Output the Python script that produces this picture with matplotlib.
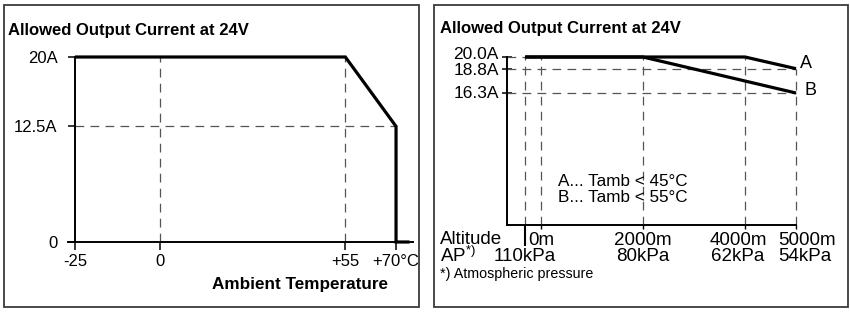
import matplotlib
matplotlib.use("Agg")
import matplotlib.pyplot as plt
from matplotlib.patches import Rectangle

plt.rcParams['font.family'] = ['Liberation Sans', 'DejaVu Sans']
plt.rcParams['mathtext.fontset'] = 'custom'
plt.rcParams['mathtext.rm'] = 'Liberation Sans'
plt.rcParams['mathtext.it'] = 'Liberation Sans'
plt.rcParams['mathtext.default'] = 'regular'

# ---------------- data ----------------
# Left chart: current vs ambient temperature
temp_c = [-25, 55, 70, 70, 74]
current_temp = [20, 20, 12.5, 0, 0]
temp_ticks = [-25, 0, 55, 70]
temp_ticklabels = ["-25", "0", "+55", "+70°C"]
cur_ticks_left = [0, 12.5, 20]
cur_ticklabels_left = ["0", "12.5A", "20A"]

# Right chart: current vs altitude
alt_start = -310          # position of the 110kPa marker
alt_A = [alt_start, 4000, 5000]
cur_A = [20.0, 20.0, 18.8]
alt_B = [alt_start, 2000, 5000]
cur_B = [20.0, 20.0, 16.3]
alt_ticks = [0, 2000, 4000, 5000]
alt_ticklabels = ["0m", "2000m", "4000m", "5000m"]
ap_pos = [alt_start, 2000, 4000, 5000]
ap_labels = ["110kPa", "80kPa", "62kPa", "54kPa"]
cur_ticks_right = [16.3, 18.8, 20.0]
cur_ticklabels_right = ["16.3A", "18.8A", "20.0A"]

# ---------------- layout helpers ----------------
W, H = 850, 314
fig = plt.figure(figsize=(W / 100, H / 100), dpi=100)


def add_axes_px(x0, y0, x1, y1):
    return fig.add_axes([x0 / W, 1 - y1 / H, (x1 - x0) / W, (y1 - y0) / H])


def ftext(x, y, s, **kw):
    return fig.text(x / W, 1 - y / H, s, **kw)


def frame(x0, y0, x1, y1):
    fig.add_artist(Rectangle((x0 / W, 1 - y1 / H), (x1 - x0) / W, (y1 - y0) / H,
                             transform=fig.transFigure, fill=False,
                             edgecolor="#3a3a3a", lw=1.3))


DASH = dict(color="#555555", lw=0.9, ls=(0, (7, 5)))
THICK = dict(color="black", lw=2.3, solid_joinstyle="miter", solid_capstyle="butt")

# ---------------- left panel ----------------
frame(4, 5, 419, 307)
axL = add_axes_px(60, 40, 420, 300)
ax0, bx = 159.5, 3.379          # px = ax0 + bx * temp
yb0, by = 242.0, 9.25           # py = yb0 - by * current
axL.set_xlim((60 - ax0) / bx, (420 - ax0) / bx)
axL.set_ylim((yb0 - 300) / by, (yb0 - 40) / by)
axL.patch.set_visible(False)
for s in ("top", "right"):
    axL.spines[s].set_visible(False)
axL.spines["left"].set_position(("data", -25))
axL.spines["left"].set_bounds(0, 20)
axL.spines["bottom"].set_position(("data", 0))
axL.spines["bottom"].set_bounds(-27.1, 75.0)
for s in ("left", "bottom"):
    axL.spines[s].set_linewidth(1.4)

axL.set_xticks(temp_ticks, temp_ticklabels)
axL.set_yticks(cur_ticks_left, cur_ticklabels_left)
axL.tick_params(axis="y", direction="out", length=5, width=1.1, pad=7.5, labelsize=12)
axL.tick_params(axis="x", direction="out", length=5.8, width=1.1, pad=2.5, labelsize=12)

axL.hlines(12.5, -25, 70, **DASH)
axL.vlines([0, 55], 0, 20, **DASH)
axL.plot(temp_c, current_temp, clip_on=False, **THICK)

ftext(8, 30, "Allowed Output Current at 24V", fontsize=12, fontweight="bold",
      ha="left", va="center")
ftext(388, 285, "Ambient Temperature", fontsize=12.3, fontweight="bold",
      ha="right", va="center")

# ---------------- right panel ----------------
frame(434, 5, 848, 307)
axR = add_axes_px(480, 40, 840, 300)
cx0, cbx = 541.0, 0.051          # px = cx0 + cbx * altitude
cy0, cby = 57.0, 9.73            # py = cy0 + cby * (20 - current)
base = 20 - (225 - cy0) / cby
yaxis_alt = (507 - cx0) / cbx
axR.set_xlim((480 - cx0) / cbx, (840 - cx0) / cbx)
axR.set_ylim(20 - (300 - cy0) / cby, 20 - (40 - cy0) / cby)
axR.patch.set_visible(False)
for s in ("top", "right"):
    axR.spines[s].set_visible(False)
axR.spines["left"].set_position(("data", yaxis_alt))
axR.spines["left"].set_bounds(base, 20)
axR.spines["bottom"].set_position(("data", base))
axR.spines["bottom"].set_bounds(yaxis_alt, 5000)
for s in ("left", "bottom"):
    axR.spines[s].set_linewidth(1.4)

axR.set_yticks(cur_ticks_right)
axR.tick_params(axis="y", direction="inout", length=7.2, width=1.1, labelleft=False)
axR.set_xticks(alt_ticks)
axR.set_xticks([alt_start], minor=True)
axR.tick_params(axis="x", which="major", direction="out", length=3, width=1.0, labelbottom=False)
axR.tick_params(axis="x", which="minor", direction="out", length=15, width=1.5, labelbottom=False)

# y labels (nudged slightly so the close pair stays apart)
ylab_dy = [-0.5, -1.0, 1.5]
for v, lab, dy in zip(cur_ticks_right, cur_ticklabels_right, ylab_dy):
    axR.annotate(lab, xy=(yaxis_alt, v), xytext=(-6, dy), textcoords="offset points",
                 ha="right", va="center", fontsize=12.5)

# dashed guides
axR.hlines(20.0, yaxis_alt, alt_start, **DASH)
axR.hlines([18.8, 16.3], yaxis_alt, 5000, **DASH)
axR.vlines([alt_start, 0, 2000, 4000], base, 20, **DASH)
axR.vlines(5000, base, 18.8, **DASH)

axR.plot(alt_A, cur_A, clip_on=False, **THICK)
axR.plot(alt_B, cur_B, clip_on=False, **THICK)
axR.annotate("A", xy=(alt_A[-1], cur_A[-1]), xytext=(3, 4), textcoords="offset points",
             ha="left", va="center", fontsize=13)
axR.annotate("B", xy=(alt_B[-1], cur_B[-1]), xytext=(6, 1.5), textcoords="offset points",
             ha="left", va="center", fontsize=13)

# two-row x labels
row_dx = [0, 0, -5, 8]
for a, lab, dx in zip(alt_ticks, alt_ticklabels, row_dx):
    axR.annotate(lab, xy=(a, base), xytext=(dx, -11.5), textcoords="offset points",
                 ha="center", va="center", fontsize=13.5)
ap_dx = [0, 0, -5, 6]
for a, lab, dx in zip(ap_pos, ap_labels, ap_dx):
    axR.annotate(lab, xy=(a, base), xytext=(dx, -23), textcoords="offset points",
                 ha="center", va="center", fontsize=13.5)

ftext(440, 239.5, "Altitude", fontsize=13.5, ha="left", va="center")
ftext(440, 262.5, r"AP$^{*)}$", fontsize=13.5, ha="left", va="baseline")
ftext(440, 274, "*) Atmospheric pressure", fontsize=10.3, ha="left", va="center")

ftext(558, 182, "A... Tamb < 45°C", fontsize=12.3, ha="left", va="center")
ftext(558, 197, "B... Tamb < 55°C", fontsize=12.3, ha="left", va="center")
ftext(440, 29, "Allowed Output Current at 24V", fontsize=12, fontweight="bold",
      ha="left", va="center")

fig.savefig("out.png", dpi=100)
